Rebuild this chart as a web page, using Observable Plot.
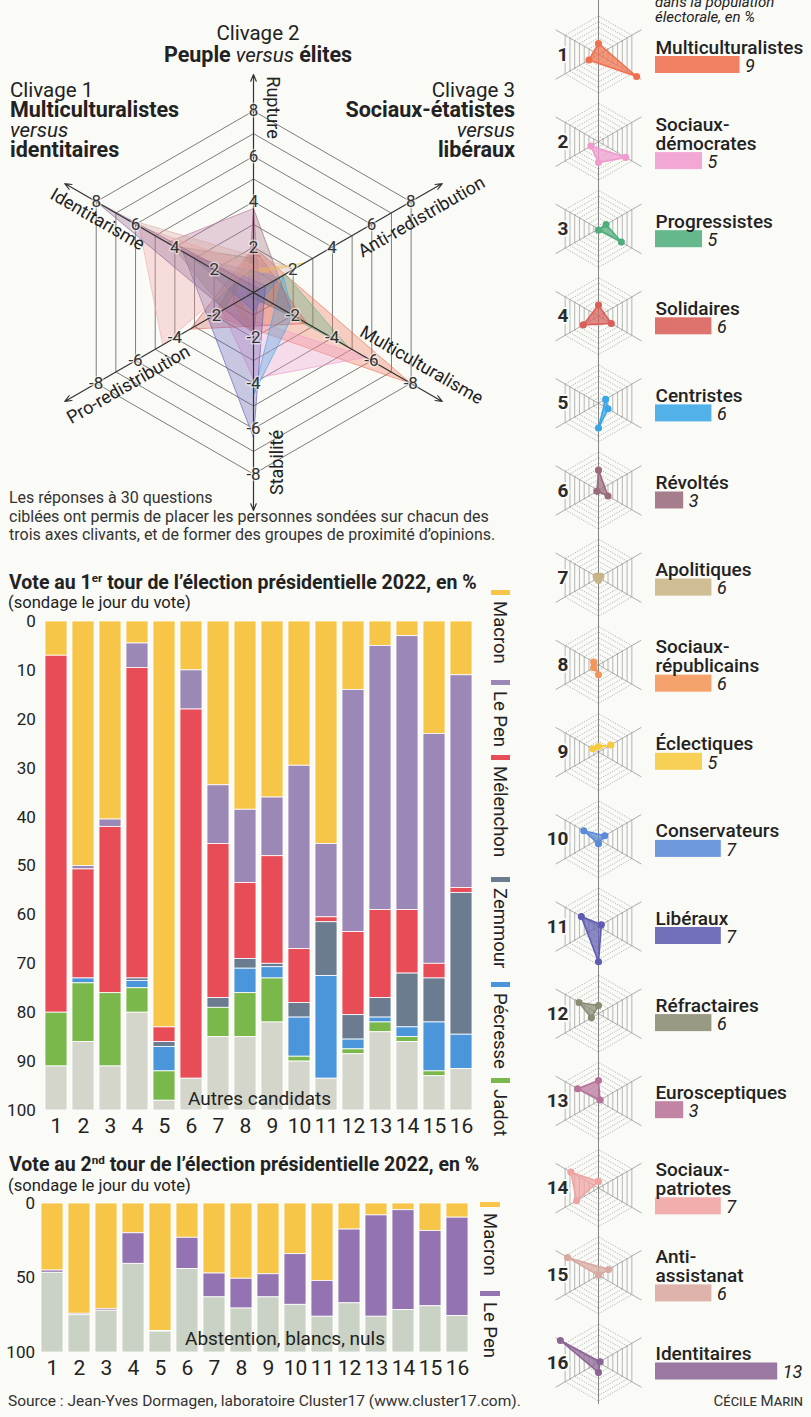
<!DOCTYPE html>
<html lang="fr">
<head>
<meta charset="utf-8">
<script src="https://cdn.jsdelivr.net/npm/d3@7"></script>
<script src="https://cdn.jsdelivr.net/npm/@observablehq/plot@0.6"></script>
<style>
html,body{margin:0;padding:0;background:#fafaf7;}
#page{position:relative;width:811px;height:1417px;overflow:hidden;font-family:Roboto,"Noto Sans",sans-serif;color:#222;background:#fafaf7;}
.t{position:absolute;white-space:nowrap;}
#page svg{position:absolute;overflow:visible;}
b{font-weight:700;}
.hb{font-size:21.5px;}
.sup{font-size:0.6em;vertical-align:0.6em;line-height:0;}
</style>
</head>
<body>
<div id="page"></div>
<script>
// ---------------- DATA ----------------
const groupIds = [1,2,3,4,5,6,7,8,9,10,11,12,13,14,15,16];
const groupNames = ["Multiculturalistes","Sociaux-\ndémocrates","Progressistes","Solidaires","Centristes","Révoltés","Apolitiques","Sociaux-\nrépublicains","Éclectiques","Conservateurs","Libéraux","Réfractaires","Eurosceptiques","Sociaux-\npatriotes","Anti-\nassistanat","Identitaires"];
const groupShares = [9,5,5,6,6,3,6,6,5,7,7,6,3,7,6,13];
// clivage 1 : + identitarisme / - multiculturalisme
const clivage1 = [-8,-5.7,-4.8,-2.7,-2,-2,0.5,1,1.2,3.1,3.6,4.1,4.4,5.8,6.5,8];
// clivage 2 : + rupture / - stabilité
const clivage2 = [2,-3.8,-0.2,2,-4.5,3.7,-0.5,-1.8,1,-0.8,-6.4,1.5,3.7,1.2,0,-1.8];
// clivage 3 : + anti-redistribution / - pro-redistribution
const clivage3 = [-2,-1.6,1.6,-3.2,1.5,-0.3,0.5,-1,2.6,1.3,0.6,-1.5,0.3,-4.6,2.1,0.3];
const groupColors = ["#f0704e","#f09bd0","#4fae7c","#d9605a","#3aa6e6","#9a6b7d","#c8b486","#f4955a","#f7ca40","#5a8bd8","#5f5cb3","#8b8c74","#b8739a","#f0a3a2","#d8a9a0","#8c6596"];

const radarTicks = [-8,-6,-4,-2,2,4,6,8];
const radarRings = [1,2,3,4,5,6,7,8];
const smallRings = [1,2,3,4,5,6,7];

const candidats1 = ["Macron","Le Pen","Mélenchon","Zemmour","Pécresse","Jadot","Autres candidats"];
const candColors1 = ["#f7c548","#9c88b6","#e84d57","#6b7c91","#4b95da","#7ab84b","#d5d6cb"];
const macron1    = [7,50,40.5,4.5,83,10,33.5,38.5,36,29.5,45.5,14,5,3,23,11];
const lepen1     = [0,0.7,1.5,5,0,8,12,15,12,37.5,15,49.5,54,56,47,43.5];
const melenchon1 = [73,22.3,34,63.5,3,75.5,31.5,15.5,22,11,1,17,18,13,3,1];
const zemmour1   = [0,0,0,0.5,1,0,2,2,0.7,3,11,5,4,11,9,29];
const pecresse1  = [0,1,0,1.5,5,0,0,5,2.3,8,21,2,1,2,10,7];
const jadot1     = [11,12,15,5,6,0,6,9,9,1,0,1,2,1,1,0];
const autres1    = [9,14,9,20,2,6.5,15,15,18,10,6.5,11.5,16,14,7,8.5];
const yTicks1 = [0,10,20,30,40,50,60,70,80,90,100];

const candidats2 = ["Macron","Le Pen","Abstention, blancs, nuls"];
const candColors2 = ["#f7c548","#9373b1","#c9d2c4"];
const macron2     = [45,74,71,20,85.5,23,47,50.5,47.5,34,52,17.5,8,4.5,18.5,9.5];
const lepen2      = [1.5,1,1,20.5,0.5,21,16,20,15.5,34,24,49.5,68,67,50.5,66];
const abstention2 = [53.5,25,28,59.5,14,56,37,29.5,37,32,24,33,24,28.5,31,24.5];
const yTicks2 = [0,50,100];

// ---------------- HELPERS ----------------
const BG = "#fafaf7";
const FONT = "Roboto, 'Noto Sans', sans-serif";
const page = document.getElementById("page");
function put(node, left, top) { node.style.left = left + "px"; node.style.top = top + "px"; page.appendChild(node); return node; }
function txt(html, style) { const d = document.createElement("div"); d.className = "t"; d.innerHTML = html; Object.assign(d.style, style); page.appendChild(d); return d; }

const C30 = Math.sqrt(3) / 2;
const axisDir = [[-C30, 0.5], [0, 1], [C30, 0.5]];
const values = [clivage1, clivage2, clivage3];
const hexAngles = [30, 90, 150, 210, 270, 330].map(d => d * Math.PI / 180);
function triangle(i, oy = 0) {
  return values.map((vals, k) => ({grp: groupIds[i], color: groupColors[i], x: vals[i] * axisDir[k][0], y: oy + vals[i] * axisDir[k][1]}));
}

// ---------------- MAIN RADAR ----------------
const MS = 22.7, MCX = 253, MCY = 292, MW = 530, MH = 520;
const ringRows = radarRings.flatMap(r => hexAngles.map(a => ({ring: r, x: r * Math.cos(a), y: r * Math.sin(a)})));
const arrowRows = axisDir.flatMap(([dx, dy]) => [1, -1].map(s => ({x: s * 9.6 * dx, y: s * 9.6 * dy})));
const tickRows = axisDir.flatMap(([dx, dy]) => radarTicks.map(v => ({x: v * dx, y: v * dy, t: v < 0 ? "-" + (-v) : String(v)})));
const axisNames = [
  {t: "Rupture", x: 0.84, y: 8.15, r: 90},
  {t: "Stabilité", x: 1.06, y: -7.49, r: -90},
  {t: "Identitarisme", x: -6.87, y: 3.22, r: 30},
  {t: "Anti-redistribution", x: 7.40, y: 3.33, r: -30},
  {t: "Multiculturalisme", x: 7.40, y: -3.20, r: 30},
  {t: "Pro-redistribution", x: -5.51, y: -4.06, r: -30}
];
const mainPlot = Plot.plot({
  width: MW, height: MH, margin: 0,
  x: {domain: [-MCX / MS, (MW - MCX) / MS], axis: null},
  y: {domain: [(MCY - MH) / MS, MCY / MS], axis: null},
  style: {background: "transparent", fontFamily: FONT, overflow: "visible"},
  marks: [
    Plot.line(ringRows, {x: "x", y: "y", z: "ring", curve: "linear-closed", stroke: "#6e6e6e", strokeWidth: 0.9}),
    ...groupIds.map((g, i) => Plot.line(triangle(i), {x: "x", y: "y", curve: "linear-closed", fill: groupColors[i], fillOpacity: 0.32, stroke: groupColors[i], strokeOpacity: 0.8, strokeWidth: 0.8})),
    Plot.arrow(arrowRows, {x1: () => 0, y1: () => 0, x2: "x", y2: "y", stroke: "#333", strokeWidth: 1.2, headLength: 9, headAngle: 45}),
    Plot.text(tickRows, {x: "x", y: "y", text: "t", fontSize: 17, fill: "#333", stroke: BG, strokeWidth: 3, strokeOpacity: 0.55}),
    Plot.text(axisNames, {x: "x", y: "y", text: "t", rotate: "r", fontSize: 18, fill: "#222"})
  ]
});
put(mainPlot, 0, 0);

// ---------------- VOTE 1er TOUR ----------------
const series1 = [macron1, lepen1, melenchon1, zemmour1, pecresse1, jadot1, autres1];
const votes1 = groupIds.flatMap((g, i) => candidats1.map((c, j) => ({grp: g, cand: c, v: series1[j][i]})));
const chart1 = Plot.plot({
  width: 530, height: 530, marginTop: 11, marginBottom: 30, marginLeft: 38.25, marginRight: 51.75,
  x: {domain: groupIds, paddingInner: 0.2, paddingOuter: 0.1, label: null},
  y: {domain: [0, 100], reverse: true, label: null},
  color: {domain: candidats1, range: candColors1},
  style: {background: "transparent", fontFamily: FONT, color: "#222", overflow: "visible"},
  marks: [
    Plot.barY(votes1, {x: "grp", y: "v", fill: "cand", order: candidats1, stroke: "#fff", strokeWidth: 0.8}),
    Plot.axisY(yTicks1, {tickSize: 0, tickPadding: 3, fontSize: 17, label: null}),
    Plot.axisX({tickSize: 0, tickPadding: 8, fontSize: 21, label: null})
  ]
});
put(chart1, 0, 610);

// ---------------- VOTE 2nd TOUR ----------------
const series2 = [macron2, lepen2, abstention2];
const votes2 = groupIds.flatMap((g, i) => candidats2.map((c, j) => ({grp: g, cand: c, v: series2[j][i]})));
const chart2 = Plot.plot({
  width: 530, height: 185, marginTop: 8, marginBottom: 28, marginLeft: 37.5, marginRight: 59.4,
  x: {domain: groupIds, paddingInner: 0.2, paddingOuter: 0.1, label: null},
  y: {domain: [0, 100], reverse: true, label: null},
  color: {domain: candidats2, range: candColors2},
  style: {background: "transparent", fontFamily: FONT, color: "#222", overflow: "visible"},
  marks: [
    Plot.barY(votes2, {x: "grp", y: "v", fill: "cand", order: candidats2, stroke: "#fff", strokeWidth: 0.8}),
    Plot.axisY(yTicks2, {tickSize: 0, tickPadding: 3, fontSize: 17, label: null}),
    Plot.axisX({tickSize: 0, tickPadding: 8, fontSize: 21, label: null})
  ]
});
put(chart2, 0, 1195);

// ---------------- SMALL RADARS ----------------
const RS = 5.5, RCX = 68, RW = 125, RTOP = 54, RSTEP = 87.2;
const rowCY = i => -i * RSTEP / RS;
const solidEdges = [], dashedEdges = [], spokes = [];
groupIds.forEach((g, i) => {
  const cy = rowCY(i);
  smallRings.forEach(r => {
    for (let k = 0; k < 6; k++) {
      const a = hexAngles[k], b = hexAngles[(k + 1) % 6];
      const seg = {x1: r * Math.cos(a), y1: cy + r * Math.sin(a), x2: r * Math.cos(b), y2: cy + r * Math.sin(b)};
      (k === 2 || k === 5 ? solidEdges : dashedEdges).push(seg);
    }
  });
  [axisDir[0], axisDir[2]].forEach(([dx, dy]) => spokes.push({x1: -9 * dx, y1: cy - 9 * dy, x2: 9 * dx, y2: cy + 9 * dy}));
});
const smallVerts = groupIds.flatMap((g, i) => triangle(i, rowCY(i)));
const numberRows = groupIds.map((g, i) => ({g, y: rowCY(i)}));
const smallPlot = Plot.plot({
  width: RW, height: 1417, margin: 0,
  x: {domain: [-RCX / RS, (RW - RCX) / RS], axis: null},
  y: {domain: [(RTOP - 1417) / RS, RTOP / RS], axis: null},
  color: {type: "identity"},
  style: {background: "transparent", fontFamily: FONT, overflow: "visible"},
  marks: [
    Plot.ruleX([0], {y1: RTOP / RS, y2: rowCY(15) - 7.6, stroke: "#777", strokeWidth: 0.9}),
    Plot.link(spokes, {x1: "x1", y1: "y1", x2: "x2", y2: "y2", stroke: "#8a8a8a", strokeWidth: 0.7}),
    Plot.link(solidEdges, {x1: "x1", y1: "y1", x2: "x2", y2: "y2", stroke: "#999", strokeWidth: 0.7}),
    Plot.link(dashedEdges, {x1: "x1", y1: "y1", x2: "x2", y2: "y2", stroke: "#999", strokeWidth: 0.7, strokeDasharray: "1.3,1.3"}),
    ...groupIds.map((g, i) => Plot.line(triangle(i, rowCY(i)), {x: "x", y: "y", curve: "linear-closed", fill: groupColors[i], fillOpacity: 0.72, stroke: groupColors[i], strokeWidth: 1.6})),
    Plot.dot(smallVerts, {x: "x", y: "y", r: 2.8, fill: "color", stroke: "color"}),
    Plot.text(numberRows, {x: () => -5.45, y: "y", text: d => String(d.g), textAnchor: "end", fontSize: 19, fontWeight: 700, fill: "#2a2a2a", stroke: BG, strokeWidth: 4})
  ]
});
put(smallPlot, 530, 0);

// ---------------- POPULATION BARS ----------------
const BX0 = 5, BU = 9.4, BW = 161;
const barRows = groupIds.map((g, i) => {
  const twoLine = groupNames[i].includes("\n");
  const cy = 64.5 + 87.1 * i + (twoLine ? 9 : 0);
  return {g, name: groupNames[i], share: groupShares[i], color: groupColors[i], top: cy - 8.5, bottom: cy + 8.5, cy};
});
const barPlot = Plot.plot({
  width: BW, height: 1417, margin: 0,
  x: {domain: [-BX0 / BU, (BW - BX0) / BU], axis: null},
  y: {domain: [0, 1417], range: [0, 1417], axis: null},
  color: {type: "identity"},
  style: {background: "transparent", fontFamily: FONT, overflow: "visible"},
  marks: [
    Plot.rect(barRows, {x1: () => 0, x2: "share", y1: "top", y2: "bottom", fill: "color", fillOpacity: 0.88}),
    Plot.text(barRows, {x: () => 0, y: d => d.top - 3, text: "name", textAnchor: "start", lineAnchor: "bottom", fontSize: 19, fontWeight: 500, lineHeight: 1.0, fill: "#222"}),
    Plot.text(barRows, {x: "share", dx: 5, y: d => d.cy + 1, text: d => String(d.share), textAnchor: "start", fontSize: 18, fontStyle: "italic", fill: "#222"})
  ]
});
put(barPlot, 650, 0);

// ---------------- TEXTS ----------------
txt('Clivage 2<br><b class="hb">Peuple</b> <i>versus</i> <b class="hb">élites</b>', {left: "0px", width: "516px", textAlign: "center", top: "22.5px", fontSize: "20.5px", lineHeight: "21px"});
txt('Clivage 1<br><b class="hb">Multiculturalistes</b><br><i>versus</i><br><b class="hb">identitaires</b>', {left: "10px", top: "80px", fontSize: "20.5px", lineHeight: "20px"});
txt('Clivage 3<br><b class="hb">Sociaux-étatistes</b><br><i>versus</i><br><b class="hb">libéraux</b>', {right: "296px", top: "80px", fontSize: "20.5px", lineHeight: "20px", textAlign: "right"});
txt('Les réponses à 30 questions<br>ciblées ont permis de placer les personnes sondées sur chacun des<br>trois axes clivants, et de former des groupes de proximité d’opinions.', {left: "9px", top: "489px", fontSize: "16px", lineHeight: "18.5px", color: "#333"});

txt('<i>dans la population<br>électorale, en %</i>', {left: "655px", top: "-5.5px", fontSize: "15px", lineHeight: "15px"});

txt('<b>Vote au 1<span class="sup">er</span> tour de l’élection présidentielle 2022, en %</b>', {left: "9px", top: "574.5px", fontSize: "19.5px", lineHeight: "16px"});
txt('(sondage le jour du vote)', {left: "8px", top: "594px", fontSize: "16.6px", lineHeight: "17px"});
txt('Autres candidats', {left: "188px", top: "1088.5px", fontSize: "19px", lineHeight: "20px"});

txt('<b>Vote au 2<span class="sup">nd</span> tour de l’élection présidentielle 2022, en %</b>', {left: "9px", top: "1157px", fontSize: "19.5px", lineHeight: "16px"});
txt('(sondage le jour du vote)', {left: "8px", top: "1176.5px", fontSize: "16.6px", lineHeight: "17px"});
txt('Abstention, blancs, nuls', {left: "185px", top: "1328.5px", fontSize: "19px", lineHeight: "20px"});

txt('Source : Jean-Yves Dormagen, laboratoire Cluster17 (www.cluster17.com).', {left: "8px", top: "1391px", fontSize: "15.5px", lineHeight: "20px", color: "#333"});
txt('Cécile Marin', {right: "8px", top: "1391px", fontSize: "15px", lineHeight: "20px", fontVariant: "small-caps", color: "#333"});

// legends (rotated)
function legendItem(label, color, swLeft, swW, textCenter, y) {
  const sw = document.createElement("div");
  Object.assign(sw.style, {position: "absolute", left: swLeft + "px", top: y + "px", width: swW + "px", height: "5px", background: color});
  page.appendChild(sw);
  txt(label, {left: (textCenter + 10) + "px", top: (y + 11) + "px", fontSize: "18.5px", lineHeight: "20px", transformOrigin: "0 0", transform: "rotate(90deg)"});
}
const legend1Y = [590, 680, 755, 877, 982, 1078];
candidats1.slice(0, 6).forEach((c, j) => legendItem(c, candColors1[j], 491, 19, 500, legend1Y[j]));
const legend2Y = [1202, 1291];
candidats2.slice(0, 2).forEach((c, j) => legendItem(c, candColors2[j], 480, 20, 490, legend2Y[j]));
</script>
</body>
</html>
